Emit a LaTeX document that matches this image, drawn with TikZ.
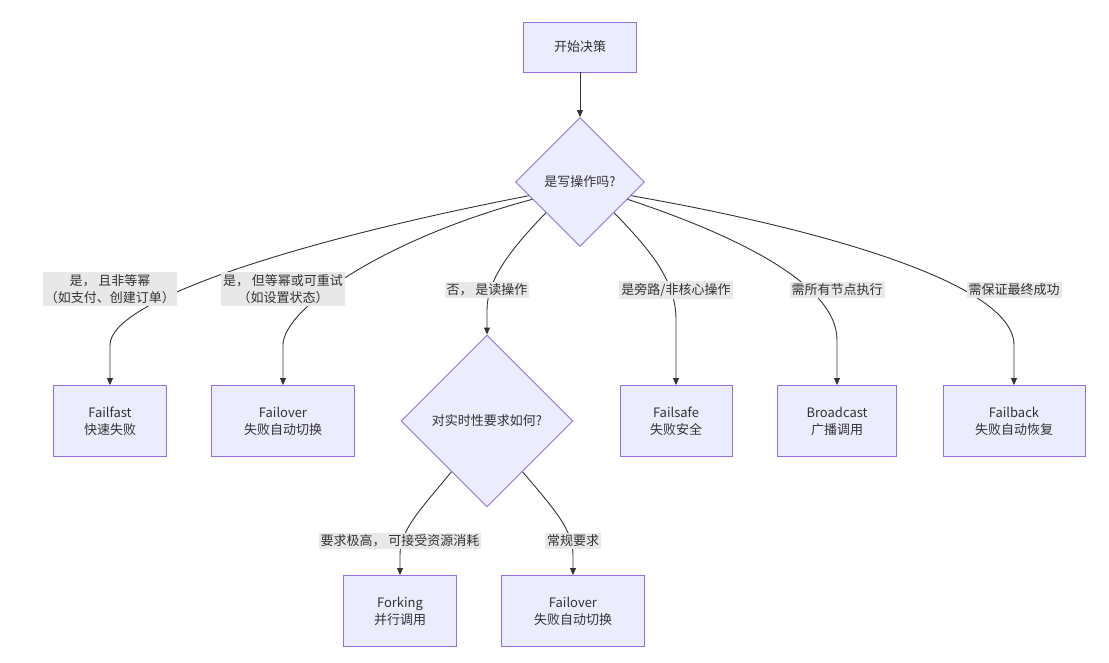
\documentclass[tikz,border=0pt]{standalone}
\usepackage{fontspec}
\setmainfont{Noto Sans CJK SC}
\usetikzlibrary{shapes.geometric,arrows.meta}
\definecolor{nfill}{HTML}{ECECFF}
\definecolor{nline}{HTML}{9370DB}
\definecolor{eline}{HTML}{333333}
\definecolor{lbg}{HTML}{E8E8E8}
\begin{document}
\begin{tikzpicture}[x=1pt,y=-1pt,
  every node/.style={font=\fontsize{13}{17}\selectfont, text=eline},
  box/.style={draw=nline, fill=nfill, line width=0.9pt, align=center, inner sep=0pt, minimum height=71},
  dia/.style={draw=nline, fill=nfill, line width=0.9pt, diamond, aspect=1, inner sep=0pt, align=center},
  lab/.style={fill=lbg, align=center, inner sep=2pt},
  edge/.style={draw=eline, line width=0.9pt, -{Triangle[length=7pt,width=6pt]}}]
\fill[white] (0,0) rectangle (1109,662);
\useasboundingbox (0,0) rectangle (1109,662);
\node[box, minimum width=113, minimum height=50] (s) at (580,47) {开始决策};
\node[dia, minimum width=129, minimum height=129] (d1) at (580,182) {是写操作吗?};
\node[box, minimum width=113] (ff) at (110,421) {Failfast\\快速失败};
\node[box, minimum width=143] (fo) at (283,421) {Failover\\失败自动切换};
\node[dia, minimum width=172, minimum height=172] (d2) at (487,421) {对实时性要求如何?};
\node[box, minimum width=112] (fs) at (676,421) {Failsafe\\失败安全};
\node[box, minimum width=119] (bc) at (837,421) {Broadcast\\广播调用};
\node[box, minimum width=142] (fb) at (1014,421) {Failback\\失败自动恢复};
\node[box, minimum width=113] (fk) at (400,611) {Forking\\并行调用};
\node[box, minimum width=143] (fo2) at (573,611) {Failover\\失败自动切换};

\draw[edge] (s) -- (d1);
\draw[edge] (d1.195) .. controls (300,240) and (110,300) .. (110,345) -- (ff.north);
\draw[edge] (d1.200) .. controls (380,240) and (283,310) .. (283,345) -- (fo.north);
\draw[edge] (d1.222) .. controls (510,250) and (487,280) .. (487,310) -- (d2.north);
\draw[edge] (d1.318) .. controls (650,250) and (676,280) .. (676,320) -- (fs.north);
\draw[edge] (d1.340) .. controls (720,230) and (837,280) .. (837,340) -- (bc.north);
\draw[edge] (d1.345) .. controls (800,225) and (1014,280) .. (1014,345) -- (fb.north);
\draw[edge] (d2.235) .. controls (420,510) and (400,530) .. (400,555) -- (fk.north);
\draw[edge] (d2.305) .. controls (555,510) and (573,530) .. (573,555) -- (fo2.north);

\node[lab] (l1) at (110,289) {是， 且非等幂\\（如支付、创建订单）};
\node[lab] (l2) at (283,289) {是， 但等幂或可重试\\（如设置状态）};
\node[lab] (l3) at (487,290) {否， 是读操作};
\node[lab] (l4) at (676,290) {是旁路/非核心操作};
\node[lab] (l5) at (837,290) {需所有节点执行};
\node[lab] (l6) at (1014,290) {需保证最终成功};
\node[lab] (l7) at (400,541) {要求极高， 可接受资源消耗};
\node[lab] (l8) at (573,541) {常规要求};
\end{tikzpicture}
\end{document}
